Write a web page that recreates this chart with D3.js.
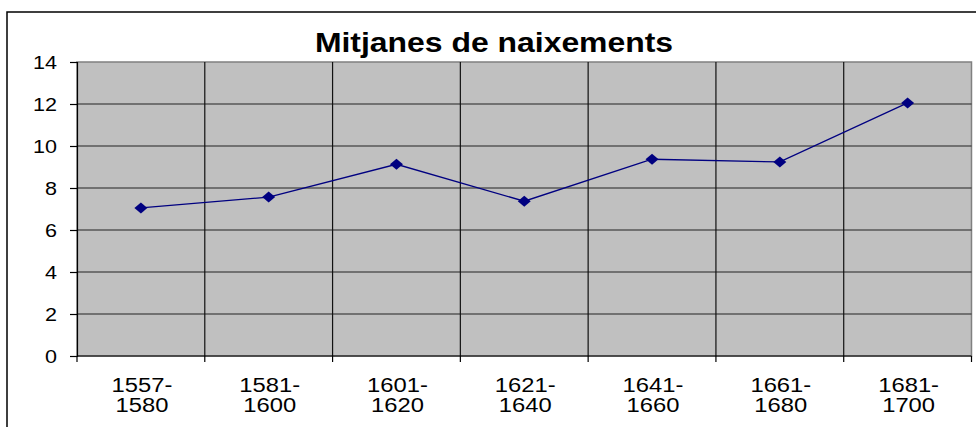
<!DOCTYPE html>
<html><head><meta charset="utf-8">
<script src="https://cdn.jsdelivr.net/npm/d3@7"></script>
<style>body{margin:0;background:#fff}svg{display:block}text{font-family:Arial,"Liberation Sans",sans-serif}</style>
</head><body>
<script>
const title = "Mitjanes de naixements";
const categories = [["1557-","1580"],["1581-","1600"],["1601-","1620"],["1621-","1640"],["1641-","1660"],["1661-","1680"],["1681-","1700"]];
const values = [7.05, 7.57, 9.13, 7.37, 9.37, 9.24, 12.05];
const yTicks = [0,2,4,6,8,10,12,14];

const W = 976, H = 427;
const m = {left:77, top:62, right:4.5, bottom:71};
const svg = d3.select("body").append("svg").attr("width",W).attr("height",H);

svg.append("rect").attr("x",7).attr("y",12).attr("width",W+10).attr("height",H+10)
  .attr("fill","#fff").attr("stroke","#000").attr("stroke-width",1.5);

const x = d3.scaleBand().domain(d3.range(categories.length)).range([m.left, W-m.right]);
const y = d3.scaleLinear().domain([0,14]).range([H-m.bottom, m.top]);

svg.append("rect").attr("x",m.left).attr("y",m.top).attr("width",W-m.right-m.left).attr("height",H-m.bottom-m.top)
  .attr("fill","#c0c0c0").attr("stroke","#808080").attr("stroke-width",1.5);

// horizontal gridlines
svg.append("g").selectAll("line").data(yTicks.filter(d=>d>0 && d<14)).join("line")
  .attr("x1",m.left).attr("x2",W-m.right).attr("y1",d=>y(d)).attr("y2",d=>y(d))
  .attr("stroke","#222").attr("stroke-width",1.2);
// vertical gridlines
svg.append("g").selectAll("line").data(d3.range(1,categories.length)).join("line")
  .attr("x1",d=>x(d)).attr("x2",d=>x(d)).attr("y1",m.top).attr("y2",H-m.bottom)
  .attr("stroke","#111").attr("stroke-width",1.2);

// y axis
const yAxis = svg.append("g").attr("transform",`translate(${m.left},0)`)
  .call(d3.axisLeft(y).tickValues(yTicks).tickSize(7).tickFormat(""));
yAxis.select(".domain").attr("stroke","#000").attr("stroke-width",1.2);
yAxis.selectAll(".tick line").attr("stroke","#000").attr("stroke-width",1.2);
svg.append("g").selectAll("text").data(yTicks).join("text")
  .attr("transform",d=>`translate(57,${y(d)+6.7}) scale(1.16,1)`)
  .attr("text-anchor","end").attr("font-size",18.6).attr("fill","#000").text(d=>d);

// x axis
const xb = H-m.bottom;
svg.append("line").attr("x1",m.left).attr("x2",W-m.right).attr("y1",xb).attr("y2",xb).attr("stroke","#000").attr("stroke-width",1.2);
svg.append("g").selectAll("line").data(d3.range(categories.length+1)).join("line")
  .attr("x1",d=>m.left+d*x.step()).attr("x2",d=>m.left+d*x.step()).attr("y1",xb).attr("y2",xb+6)
  .attr("stroke","#000").attr("stroke-width",1.2);
const xl = svg.append("g").selectAll("g").data(categories).join("g");
xl.each(function(c,i){
  const g = d3.select(this);
  c.forEach((t,j)=>{
    g.append("text").attr("transform",`translate(${x(i)+x.bandwidth()/2+1},${392+j*20}) scale(1.22,1)`)
      .attr("text-anchor","middle").attr("font-size",19.5).attr("fill","#000").text(t);
  });
});

// line
const cx = i => x(i)+x.bandwidth()/2;
svg.append("path").datum(values).attr("fill","none").attr("stroke","#000080").attr("stroke-width",1.3)
  .attr("d", d3.line().x((d,i)=>cx(i)).y(d=>y(d)));
svg.append("g").selectAll("path").data(values).join("path")
  .attr("transform",(d,i)=>`translate(${cx(i)},${y(d)})`)
  .attr("d","M0,-5.5L6.5,0L0,5.5L-6.5,0Z").attr("fill","#000080");

// title
svg.append("text").attr("transform",`translate(494,51.7) scale(1.14,1)`).attr("text-anchor","middle")
  .attr("font-size",28).attr("font-weight","bold").attr("fill","#000").text(title);
</script>
</body></html>
